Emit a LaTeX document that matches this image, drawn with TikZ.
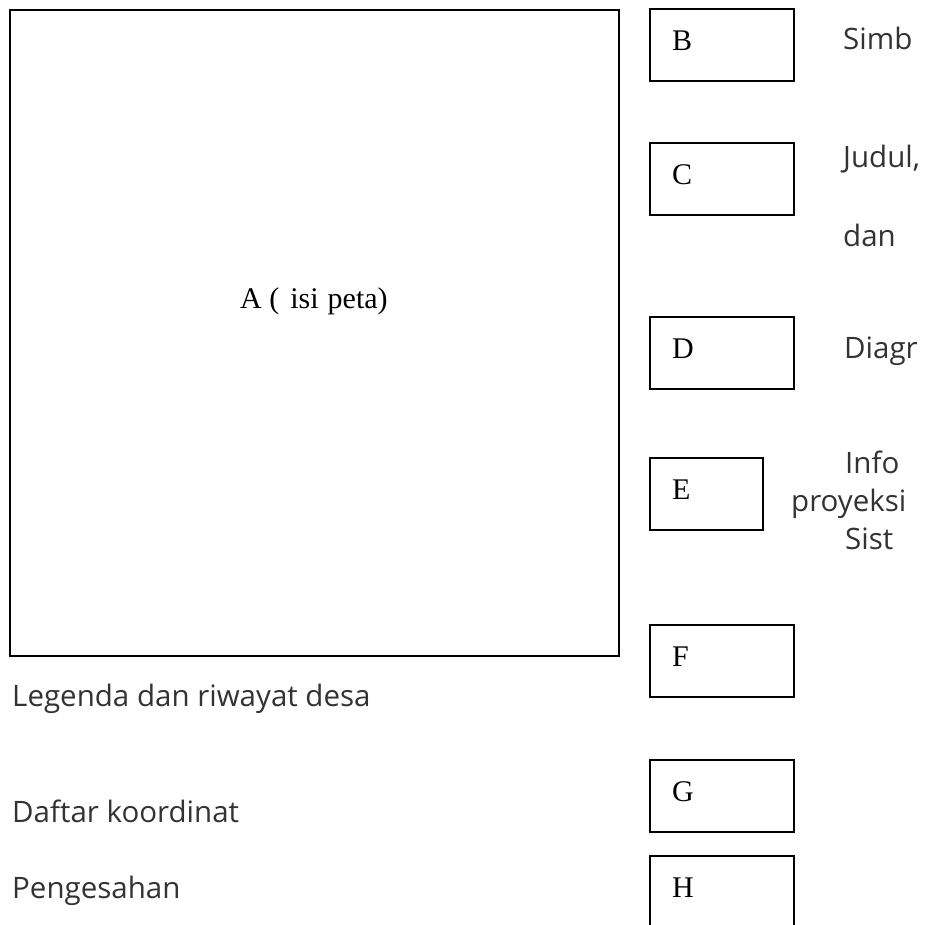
\documentclass[tikz,border=0pt]{standalone}
\usepackage{fontspec}
\setmainfont{Liberation Serif}
\newfontfamily\notefont{Open Sans}
\usetikzlibrary{calc}
\begin{document}
\begin{tikzpicture}[x=1pt,y=-1pt,
  frame/.style={draw=black, line width=1.6pt, rectangle, inner sep=0pt, outer sep=0pt, anchor=north west},
  smallbox/.style={frame, minimum width=144pt, minimum height=72pt},
  tag/.style={font=\fontsize{30}{34}\selectfont, inner sep=0pt, anchor=base west},
  note/.style={font=\notefont\fontsize{29.5}{36}\selectfont, inner sep=0pt, anchor=base west, text=black!80}]
\useasboundingbox (0,0) rectangle (929,924);
\clip (0,0) rectangle (929,924);

% map area
\node[frame, minimum width=609pt, minimum height=646pt] (A) at (10,10) {};
\node[tag] (Alabel) at (240,308) {A (\hspace{11pt}isi\hspace{9pt}peta)};

% margin boxes
\node[smallbox] (B) at (650,9) {};
\node[smallbox] (C) at (650,143) {};
\node[smallbox] (D) at (650,317) {};
\node[smallbox, minimum width=113pt] (E) at (650,458) {};
\node[smallbox] (F) at (650,625) {};
\node[smallbox] (G) at (650,760) {};
\node[smallbox] (H) at (650,856) {};

\foreach \b in {B,C,D,E,F,G,H}
  \node[tag] (\b label) at ($(\b.north west)+(22,41)$) {\b};

% notes beside the boxes
\node[note] (simb) at (843,49) {Simb};
\node[note] (judul) at (843,167) {Judul,};
\node[note] (dan) at (843,246) {dan};
\node[note] (diagr) at (844,358) {Diagr};
\node[note] (info) at (845,473) {Info};
\node[note] (proy) at (791,511) {proyeksi};
\node[note] (sist) at (845,549) {Sist};

% notes under the map
\node[note] (legenda) at (12,706) {Legenda dan riwayat desa};
\node[note] (daftar) at (12,822) {Daftar koordinat};
\node[note] (pengesahan) at (12,898) {Pengesahan};
\end{tikzpicture}
\end{document}
